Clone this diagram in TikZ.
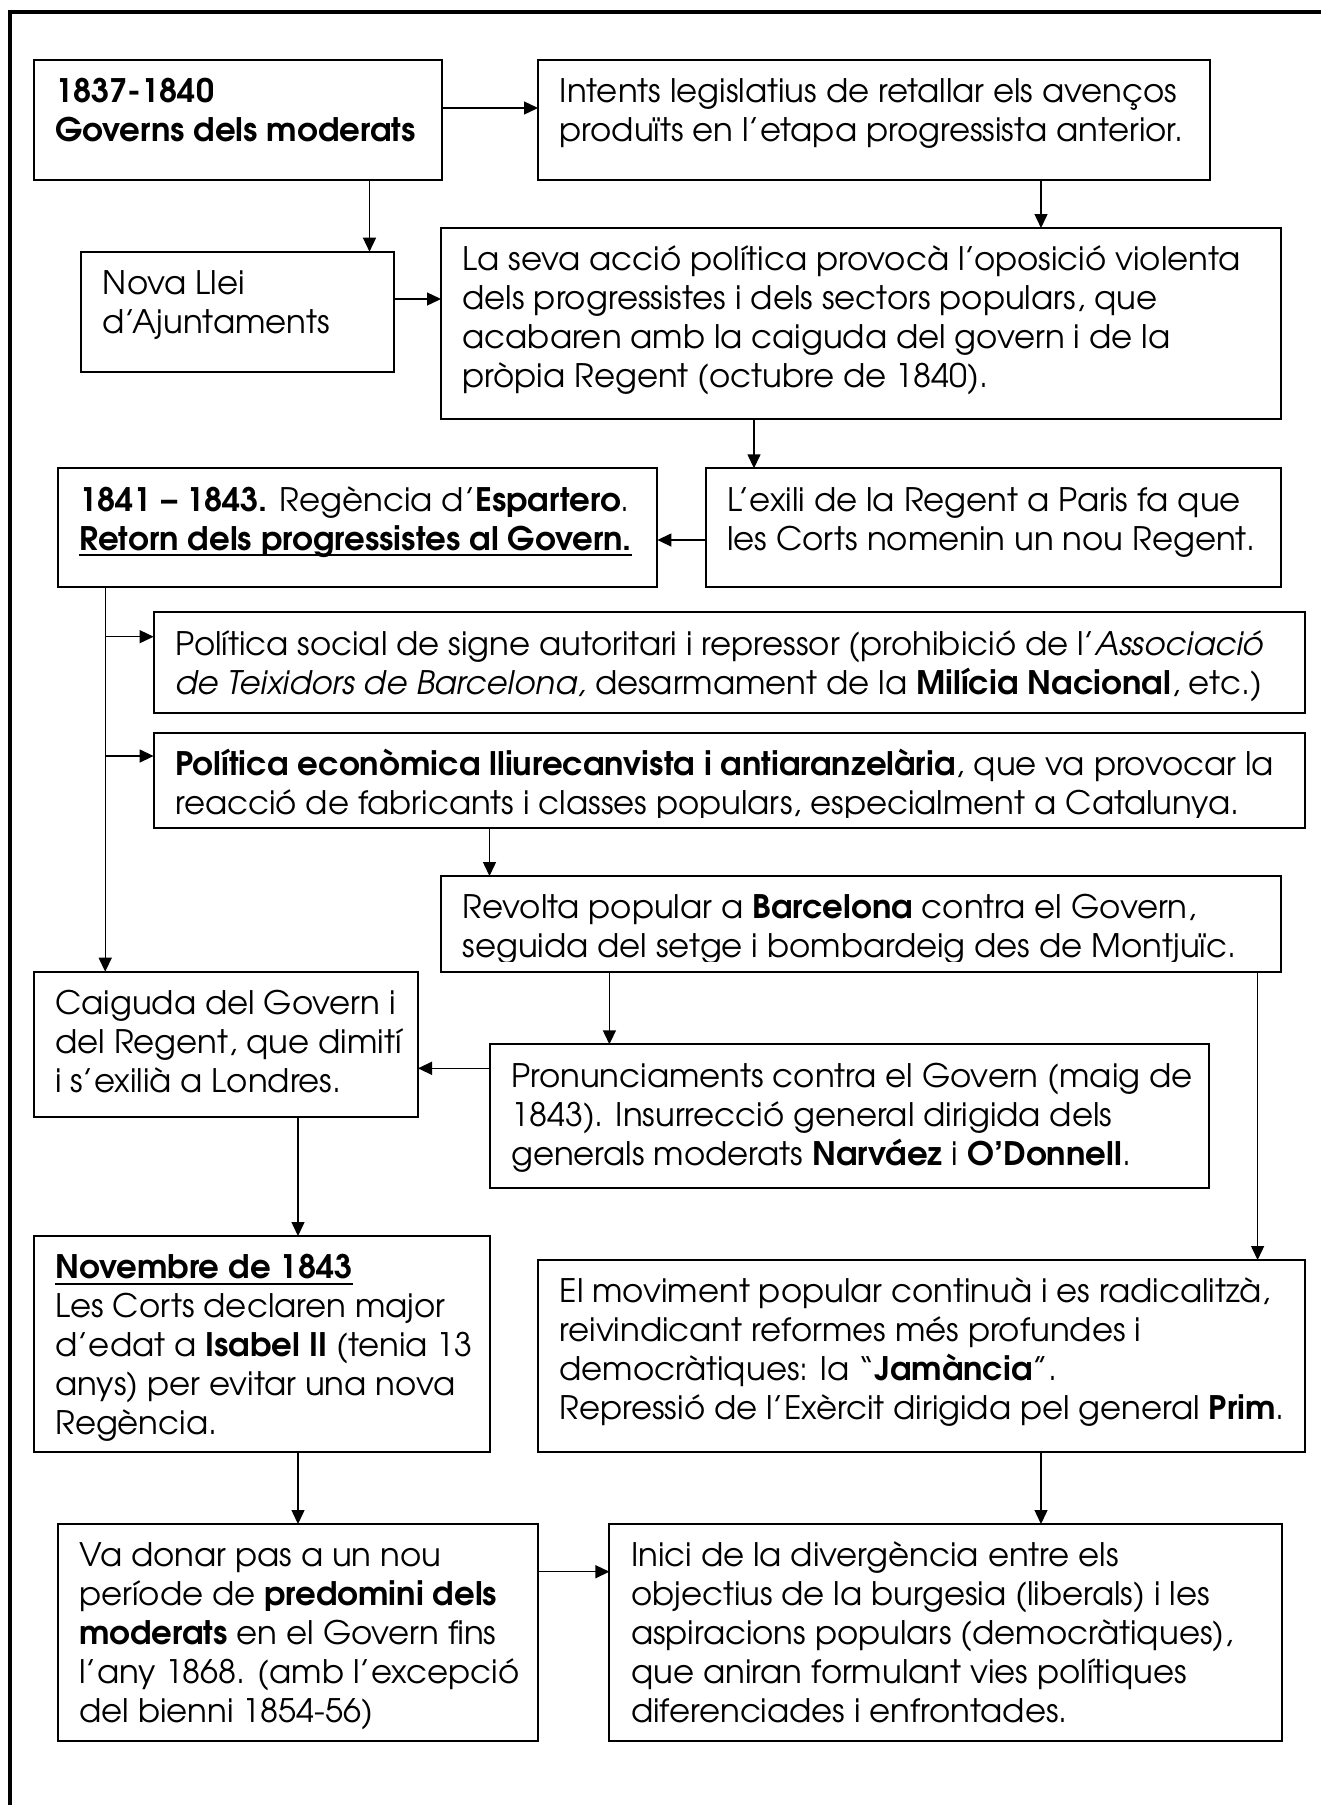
\documentclass[tikz,border=0pt]{standalone}
\usepackage{fontspec}
\setmainfont{texgyreadventor}[Extension=.otf, UprightFont=*-regular, BoldFont=*-bold, ItalicFont=*-italic, BoldItalicFont=*-bolditalic]
\usetikzlibrary{arrows.meta}
\newcommand\myuline[1]{\leavevmode\setbox0\hbox{#1}\rlap{\rule[-6.2pt]{\wd0}{2.2pt}}\box0}
\tikzset{
  boxst/.style={draw, line width=2pt, rectangle, anchor=north west, inner sep=0pt, outer sep=0pt},
  txtst/.style={anchor=north west, inner sep=0pt, align=left, font=\fontsize{32.4}{39}\selectfont},
  arr/.style={line width=1.4pt, -{Triangle[width=13pt,length=14pt]}},
  framest/.style={line width=3.5pt}
}
\newcommand\tbox[6]{%
  \node[boxst, minimum width={#4-#2}, minimum height={#5-#3}] (#1) at (#2,#3) {};
  \node[txtst] (#1t) at ([xshift=21.5pt,yshift=-15.2pt]#1.north west) {\strut #6};}
\newcommand\cbox[6]{%
  \node[boxst, minimum width={#4-#2}, minimum height={#5-#3}] (#1) at (#2,#3) {};
  \begin{scope}
  \clip (#2,#3) rectangle (#4,#5-10.5);
  \node[txtst] (#1t) at ([xshift=21.5pt,yshift=-15.2pt]#1.north west) {\strut #6};
  \end{scope}}
\begin{document}
\begin{tikzpicture}[x=1pt,y=-1pt]
\useasboundingbox (0,0) rectangle (1321,1805);
\coordinate (fa) at (10,1820);
\coordinate (fb) at (10,12);
\coordinate (fc) at (1340,12);
\draw[framest] (fa) -- (fb) -- (fc);

\tbox{A}{33.7}{60}{442}{180}{\textbf{1837-1840}\\\textbf{Governs dels moderats}}
\tbox{B}{538}{60}{1210}{180}{Intents legislatius de retallar els avenços\\produïts en l’etapa progressista anterior.}
\tbox{C}{81}{251.7}{393.5}{371.7}{Nova Llei\\d’Ajuntaments}
\tbox{D}{441}{228}{1281}{419}{La seva acció política provocà l’oposició violenta\\dels progressistes i dels sectors populars, que\\acabaren amb la caiguda del govern i de la\\pròpia Regent (octubre de 1840).}
\tbox{F}{57.7}{468.3}{657.4}{587.3}{\textbf{1841 – 1843.} Regència d’\textbf{Espartero}.\\\textbf{\myuline{Retorn dels progressistes al Govern.}}}
\tbox{E}{705.5}{468.3}{1281}{587.3}{L’exili de la Regent a Paris fa que\\les Corts nomenin un nou Regent.}
\tbox{G}{153.6}{612.3}{1305}{713.3}{Política social de signe autoritari i repressor (prohibició de l’\textit{Associació}\\\textit{de Teixidors de Barcelona,} desarmament de la \textbf{Milícia Nacional}, etc.)}
\cbox{H}{153.6}{732.7}{1305}{827.7}{\textbf{Política econòmica lliurecanvista i antiaranzelària}, que va provocar la\\reacció de fabricants i classes populars, especialment a Catalunya.}
\cbox{I}{441}{876}{1281}{971.7}{Revolta popular a \textbf{Barcelona} contra el Govern,\\seguida del setge i bombardeig des de Montjuïc.}
\tbox{J}{33.7}{971.7}{418}{1116.7}{Caiguda del Govern i\\del Regent, que dimití\\i s’exilià a Londres.}
\tbox{K}{489.5}{1044.3}{1209}{1188.3}{Pronunciaments contra el Govern (maig de\\1843). Insurrecció general dirigida dels\\generals moderats \textbf{Narváez} i \textbf{O’Donnell}.}
\tbox{L}{33.7}{1236}{489.5}{1451.7}{\textbf{\myuline{Novembre de 1843}}\\Les Corts declaren major\\d’edat a \textbf{Isabel II} (tenia 13\\anys) per evitar una nova\\Regència.}
\tbox{M}{538}{1260}{1305}{1451.7}{El moviment popular continuà i es radicalitzà,\\reivindicant reformes més profundes i\\democràtiques: la “\textbf{Jamància}”.\\Repressió de l’Exèrcit dirigida pel general \textbf{Prim}.}
\tbox{N}{57.7}{1524}{538}{1740.7}{Va donar pas a un nou\\període de \textbf{predomini dels}\\\textbf{moderats} en el Govern fins\\l’any 1868. (amb l’excepció\\del bienni 1854-56)}
\tbox{O}{609.4}{1524}{1282}{1740.7}{Inici de la divergència entre els\\objectius de la burgesia (liberals) i les\\aspiracions populars (democràtiques),\\que aniran formulant vies polítiques\\diferenciades i enfrontades.}

% connector guide coordinates
\coordinate (yab) at (0,108);
\coordinate (xac) at (369.5,0);
\coordinate (xbd) at (1041,0);
\coordinate (ycd) at (0,299);
\coordinate (xde) at (754,0);
\coordinate (yef) at (0,540);
\coordinate (xtr) at (105.2,0);
\coordinate (tg) at (105.2,636.7);
\coordinate (th) at (105.2,756);
\coordinate (xhi) at (489.5,0);
\coordinate (xik) at (609.4,0);
\coordinate (xim) at (1257.6,0);
\coordinate (ykj) at (0,1068.3);
\coordinate (xjl) at (298,0);
\coordinate (xmo) at (1041,0);
\coordinate (yno) at (0,1571.7);

\draw[arr] (A.east |- yab) -- (B.west |- yab);
\draw[arr] (A.south -| xac) -- (C.north -| xac);
\draw[arr] (B.south -| xbd) -- (D.north -| xbd);
\draw[arr] (C.east |- ycd) -- (D.west |- ycd);
\draw[arr] (D.south -| xde) -- (E.north -| xde);
\draw[arr] (E.west |- yef) -- (F.east |- yef);
\draw[arr] (F.south -| xtr) -- (J.north -| xtr);
\draw[arr] (tg) -- (tg -| G.west);
\draw[arr] (th) -- (th -| H.west);
\draw[arr] (H.south -| xhi) -- (I.north -| xhi);
\draw[arr] (I.south -| xik) -- (K.north -| xik);
\draw[arr] (I.south -| xim) -- (M.north -| xim);
\draw[arr] (K.west |- ykj) -- (J.east |- ykj);
\draw[arr] (J.south -| xjl) -- (L.north -| xjl);
\draw[arr] (L.south -| xjl) -- (N.north -| xjl);
\draw[arr] (M.south -| xmo) -- (O.north -| xmo);
\draw[arr] (N.east |- yno) -- (O.west |- yno);
\end{tikzpicture}
\end{document}
